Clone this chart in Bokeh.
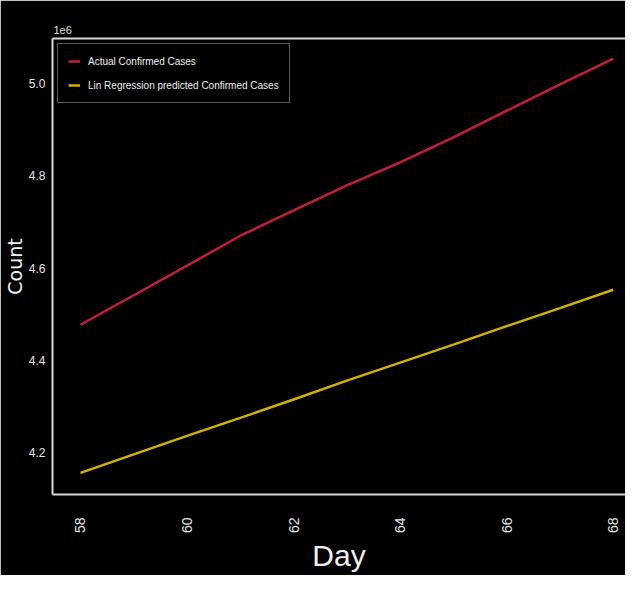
from bokeh.plotting import figure
from bokeh.models import Range1d, FixedTicker, ColumnDataSource, Legend, LegendItem, LinearAxis
from bokeh.embed import file_html
from bokeh.resources import INLINE
import math

# ---- data ----
days = [58, 59, 60, 61, 62, 63, 64, 65, 66, 67, 68]
actual_cases = [4477000, 4541000, 4605000, 4670000, 4725000, 4779000,
                4829000, 4883000, 4941000, 4998000, 5054000]
predicted_cases = [4156000, 4196000, 4236000, 4275000, 4315000, 4356000,
                   4395000, 4434000, 4474000, 4513000, 4553000]
x_ticks = [58, 60, 62, 64, 66, 68]
y_ticks = [4200000, 4400000, 4600000, 4800000, 5000000]
y_tick_labels = ["4.2", "4.4", "4.6", "4.8", "5.0"]

NARROW = "'Liberation Sans Narrow', 'Liberation Sans', sans-serif"
SPINE = "#d8d8d8"

src = ColumnDataSource(dict(day=days, actual=actual_cases, pred=predicted_cases))

p = figure(width=625, height=575, output_backend="svg", toolbar_location=None,
           x_range=Range1d(57.475, 68.23), y_range=Range1d(4109000, 5097600),
           background_fill_color="black", border_fill_color="black",
           min_border_left=52, min_border_right=0, min_border_top=38, min_border_bottom=81)

p.outline_line_color = None
p.grid.visible = False

p.title.text = "1e6"
p.title.align = "left"
p.title.text_font = NARROW
p.title.text_font_size = "11px"
p.title.text_font_style = "normal"
p.title.text_color = "#e0e0e0"
p.title.standoff = 10
p.title.offset = 1

xa = p.below[0]
ya = p.left[0]

# top spine (no ticks, no labels)
top_axis = LinearAxis(ticker=FixedTicker(ticks=[]), axis_line_color=SPINE, axis_line_width=2,
                      major_tick_line_color=None, minor_tick_line_color=None,
                      major_label_text_font_size="0px", major_label_standoff=0)
p.add_layout(top_axis, "above")

xa.ticker = FixedTicker(ticks=x_ticks)
xa.major_label_orientation = math.pi / 2
xa.major_label_text_font = NARROW
xa.major_label_text_font_size = "14px"
xa.major_label_text_color = "#e8e8e8"
xa.major_label_standoff = 17
xa.axis_label = "Day"
xa.axis_label_text_font = NARROW
xa.axis_label_text_font_size = "30px"
xa.axis_label_text_font_style = "normal"
xa.axis_label_text_color = "#f0f0f0"
xa.axis_label_standoff = 3
xa.axis_line_color = SPINE
xa.axis_line_width = 2
xa.major_tick_line_color = None
xa.minor_tick_line_color = None

ya.ticker = FixedTicker(ticks=y_ticks)
ya.major_label_overrides = {t: l for t, l in zip(y_ticks, y_tick_labels)}
ya.major_label_text_font = NARROW
ya.major_label_text_font_size = "12px"
ya.major_label_text_color = "#e8e8e8"
ya.major_label_standoff = 1
ya.axis_label = "Count"
ya.axis_label_text_font = "DejaVu Sans"
ya.axis_label_text_font_size = "19px"
ya.axis_label_text_font_style = "normal"
ya.axis_label_text_color = "#f0f0f0"
ya.axis_label_standoff = 0
ya.axis_line_color = SPINE
ya.axis_line_width = 2
ya.major_tick_line_color = None
ya.minor_tick_line_color = None

r1 = p.line("day", "actual", source=src, line_color="#c41e3a", line_width=2.5)
r2 = p.line("day", "pred", source=src, line_color="#d4b000", line_width=2.5)

legend = Legend(items=[LegendItem(label="Actual Confirmed Cases", renderers=[r1]),
                       LegendItem(label="Lin Regression predicted Confirmed Cases", renderers=[r2])],
                location="top_left")
legend.background_fill_color = "black"
legend.background_fill_alpha = 1.0
legend.border_line_color = "#b0b0b0"
legend.border_line_width = 1
legend.label_text_font = NARROW
legend.label_text_font_size = "10px"
legend.label_text_color = "#f0f0f0"
legend.glyph_width = 12
legend.glyph_height = 14
legend.spacing = 10
legend.padding = 10
legend.margin = 5
legend.label_standoff = 8
p.add_layout(legend)

open("out.html", "w").write(file_html(p, INLINE))
